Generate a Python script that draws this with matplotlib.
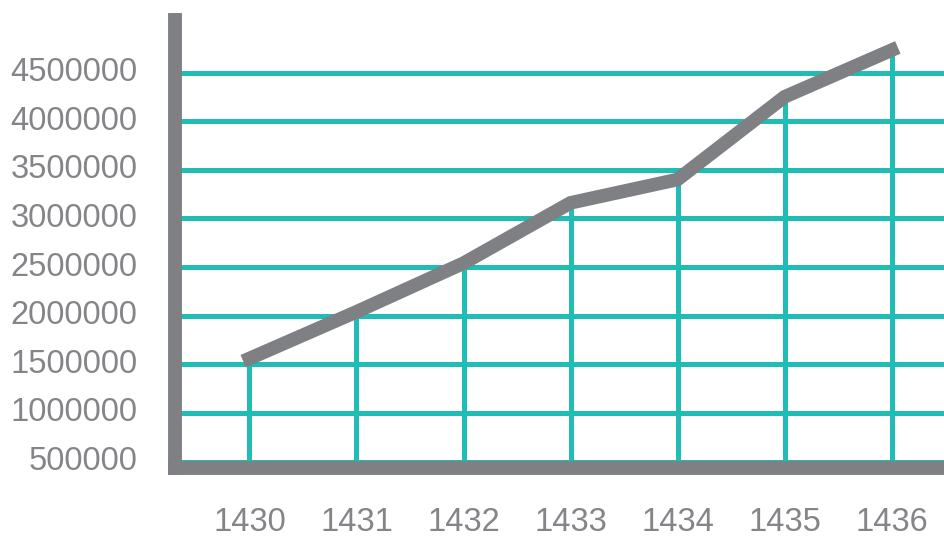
import matplotlib
matplotlib.use("Agg")
import matplotlib.pyplot as plt

years = [1430, 1431, 1432, 1433, 1434, 1435, 1436]
values = [1560000, 2040000, 2540000, 3160000, 3400000, 4250000, 4730000]
ytick_values = [500000, 1000000, 1500000, 2000000, 2500000, 3000000, 3500000, 4000000, 4500000]
ytick_labels = [str(v) for v in ytick_values]
xtick_labels = [str(y) for y in years]

GRAY = "#7f8083"
TEAL = "#1fbdb5"
TEXT = "#858589"

plt.rcParams['font.family'] = ['Liberation Sans', 'DejaVu Sans']

fig = plt.figure(figsize=(9.44, 5.38), dpi=100)
W, H = 944, 538
left_px, bottom_px, top_px, right_px = 175, 468, 20, 944
ax = fig.add_axes([left_px / W, 1 - bottom_px / H, (right_px - left_px) / W, (bottom_px - top_px) / H])

ymin, ymax = 434000, 5040000
ax.set_ylim(ymin, ymax)
ax.set_xlim(1429.304, 1436.49)

# horizontal grid
for v in ytick_values:
    ax.axhline(v, color=TEAL, lw=3.6, zorder=1)
# vertical lines up to the values
ax.vlines(years, ymin, values, color=TEAL, lw=3.6, zorder=1)
# main line
ax.plot(years, values, color=GRAY, lw=9.8, solid_capstyle='projecting',
        solid_joinstyle='miter', zorder=3)

for s in ['top', 'right']:
    ax.spines[s].set_visible(False)
for s in ['left', 'bottom']:
    ax.spines[s].set_color(GRAY)
    ax.spines[s].set_linewidth(10)
    ax.spines[s].set_zorder(4)

ax.set_yticks(ytick_values)
ax.set_yticklabels(ytick_labels)
ax.set_xticks(years)
ax.set_xticklabels(xtick_labels)
ax.tick_params(axis='both', length=0, labelsize=23.5, labelcolor=TEXT)
ax.tick_params(axis='y', pad=27)
ax.tick_params(axis='x', pad=28)
for lab in ax.get_yticklabels():
    lab.set_va('center')
ax.set_facecolor('white')
ax.patch.set_alpha(0)

fig.savefig("out.png", dpi=100, facecolor='white')
